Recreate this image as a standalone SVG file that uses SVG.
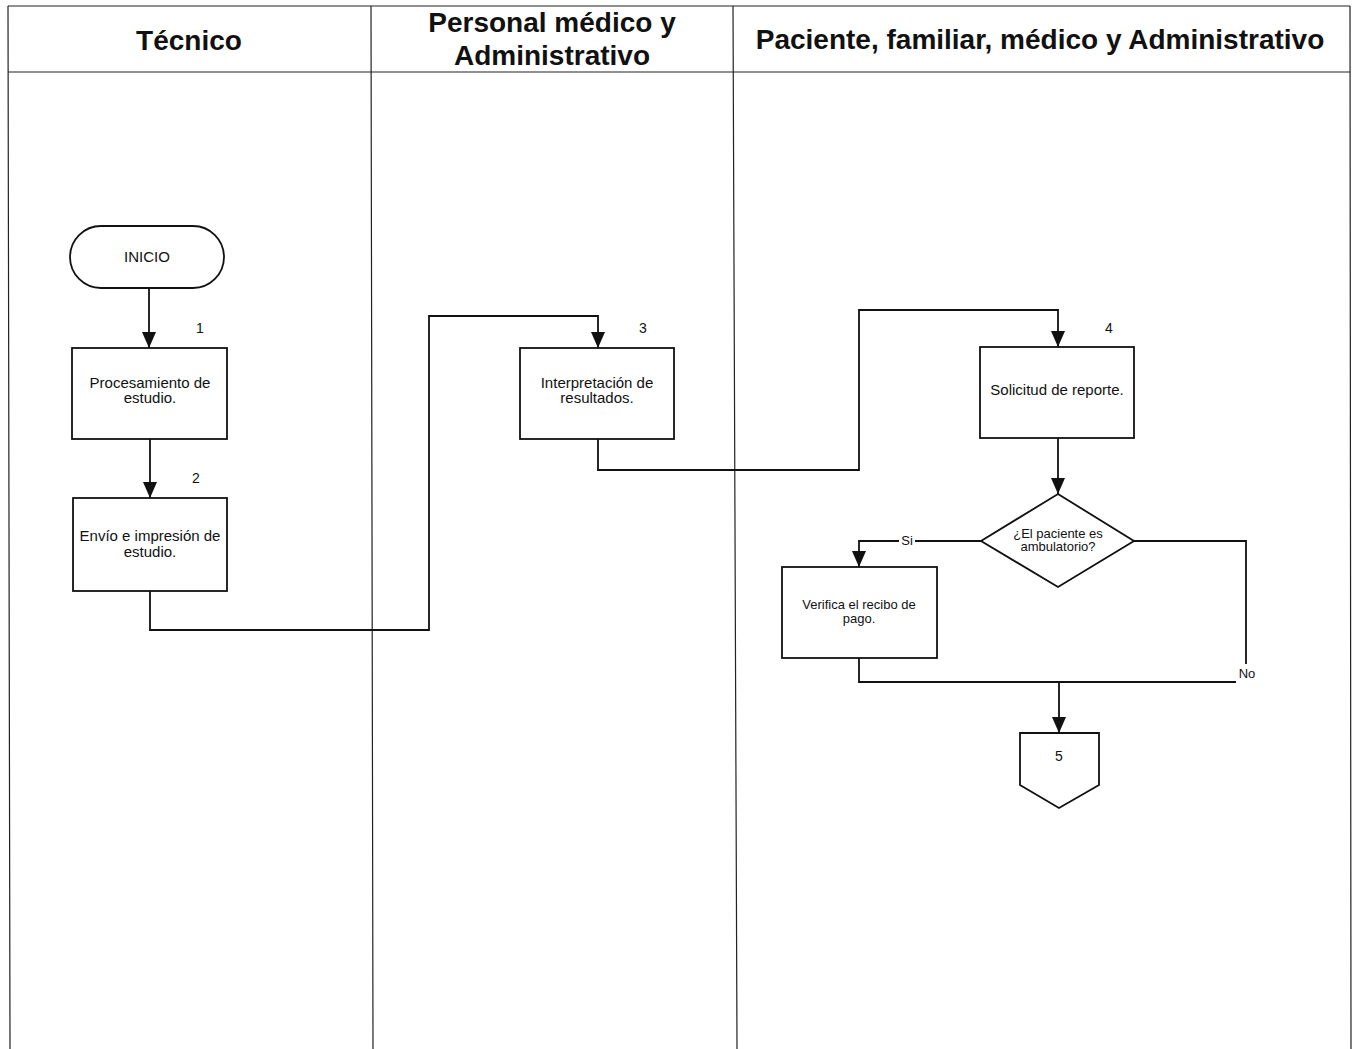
<svg xmlns="http://www.w3.org/2000/svg" width="1355" height="1049" viewBox="0 0 1355 1049">
<style>
.lane{fill:none;stroke:#222;stroke-width:1.2}
.hdr{font-family:"Liberation Sans",Arial,sans-serif;font-weight:bold;font-size:28px;fill:#111;text-anchor:middle}
.shape{fill:#fff;stroke:#111;stroke-width:1.8}
.t{font-family:"Liberation Sans",Arial,sans-serif;font-size:15px;fill:#111;text-anchor:middle}
.s{font-family:"Liberation Sans",Arial,sans-serif;font-size:13px;fill:#111;text-anchor:middle}
.num{font-family:"Liberation Sans",Arial,sans-serif;font-size:14px;fill:#111;text-anchor:middle}
.conn{fill:none;stroke:#111;stroke-width:1.8}
</style>
<defs>
<marker id="ahb" viewBox="0 0 16 14" refX="16" refY="7" markerWidth="16" markerHeight="14" markerUnits="userSpaceOnUse" orient="auto">
<path d="M0,0 L16,7 L0,14 z" fill="#111"/>
</marker>
</defs>
<rect width="1355" height="1049" fill="#fff"/>
<g id="lanes">
<path class="lane" d="M8,6 L1350,6 M8,72 L1350,72 M8,6 L10,1049 M371,6 L373,1049 M733,6 L737,1049 M1350,6 L1351,1049"/>
<text class="hdr" x="189" y="50">Técnico</text>
<text class="hdr" x="552" y="32">Personal médico y</text>
<text class="hdr" x="552" y="65">Administrativo</text>
<text class="hdr" x="1040" y="49">Paciente, familiar, médico y Administrativo</text>
</g>
<g id="connectors">
<path class="conn" d="M149,288 L149,348" marker-end="url(#ahb)"/>
<path class="conn" d="M150,439 L150,498" marker-end="url(#ahb)"/>
<path class="conn" d="M150,591 L150,630 L429,630 L429,316 L598,316 L598,348" marker-end="url(#ahb)"/>
<path class="conn" d="M598,439 L598,470 L859,470 L859,310 L1058,310 L1058,347" marker-end="url(#ahb)"/>
<path class="conn" d="M1058,438 L1058,494" marker-end="url(#ahb)"/>
<path class="conn" d="M981,541 L915,541 M899,541 L859,541 L859,567" marker-end="url(#ahb)"/>
<path class="conn" d="M1134,541 L1246,541 L1246,664"/>
<path class="conn" d="M859,658 L859,682 L1236,682"/>
<path class="conn" d="M1059,682 L1059,733" marker-end="url(#ahb)"/>
<text class="s" x="907" y="545">Si</text>
<text class="s" x="1247" y="678">No</text>
</g>
<g id="inicio">
<rect class="shape" x="70" y="226" width="154" height="62" rx="31" ry="31"/>
<text class="t" x="147" y="262" font-size="17">INICIO</text>
</g>
<g id="n1">
<rect class="shape" x="72" y="348" width="155" height="91"/>
<text class="num" x="200" y="333">1</text>
<text class="t" x="150" y="388">Procesamiento de</text>
<text class="t" x="150" y="403">estudio.</text>
</g>
<g id="n2">
<rect class="shape" x="73" y="498" width="154" height="93"/>
<text class="num" x="196" y="483">2</text>
<text class="t" x="150" y="541">Envío e impresión de</text>
<text class="t" x="150" y="557">estudio.</text>
</g>
<g id="n3">
<rect class="shape" x="520" y="348" width="154" height="91"/>
<text class="num" x="643" y="333">3</text>
<text class="t" x="597" y="388">Interpretación de</text>
<text class="t" x="597" y="403">resultados.</text>
</g>
<g id="n4">
<rect class="shape" x="980" y="347" width="154" height="91"/>
<text class="num" x="1109" y="333">4</text>
<text class="t" x="1057" y="395">Solicitud de reporte.</text>
</g>
<g id="decision">
<polygon class="shape" points="1058,494 1134,541 1058,587 981,541"/>
<text class="s" x="1058" y="538">¿El paciente es</text>
<text class="s" x="1058" y="551">ambulatorio?</text>
</g>
<g id="verifica">
<rect class="shape" x="782" y="567" width="155" height="91"/>
<text class="s" x="859" y="609">Verifica el recibo de</text>
<text class="s" x="859" y="623">pago.</text>
</g>
<g id="c5">
<polygon class="shape" points="1020,733 1099,733 1099,785 1059,808 1020,785"/>
<text class="num" x="1059" y="761">5</text>
</g>
</svg>
